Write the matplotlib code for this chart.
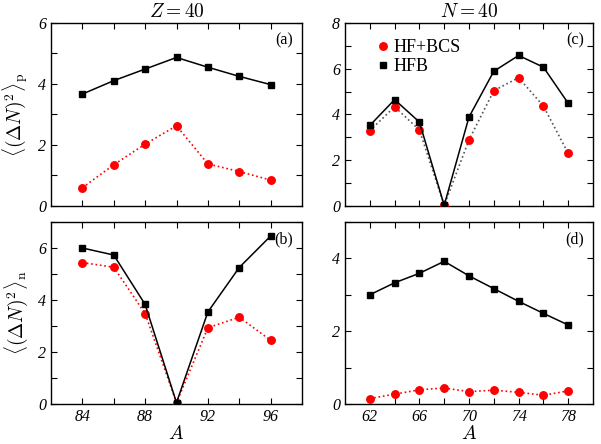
import numpy as np
import matplotlib.pyplot as plt

plt.rcParams["mathtext.fontset"] = "cm"
plt.rcParams["font.family"] = "serif"
plt.rcParams["font.serif"] = ["Liberation Serif", "DejaVu Serif"]
plt.rcParams["font.style"] = "italic"

# ---- data ----
A_zr = [84, 86, 88, 90, 92, 94, 96]
A_n40 = [62, 64, 66, 68, 70, 72, 74, 76, 78]

hfb_a = [3.67, 4.11, 4.49, 4.87, 4.55, 4.25, 3.98]
bcs_a = [0.60, 1.35, 2.03, 2.63, 1.38, 1.13, 0.85]

hfb_b = [6.00, 5.73, 3.83, 0.05, 3.54, 5.25, 6.46]
bcs_b = [5.44, 5.26, 3.48, 0.05, 2.93, 3.34, 2.45]

hfb_c = [3.52, 4.65, 3.67, 0.03, 3.89, 5.89, 6.58, 6.07, 4.49]
bcs_c = [3.29, 4.34, 3.32, 0.03, 2.89, 5.04, 5.61, 4.37, 2.30]

hfb_d = [3.00, 3.33, 3.59, 3.92, 3.52, 3.17, 2.82, 2.49, 2.17]
bcs_d = [0.15, 0.27, 0.39, 0.44, 0.34, 0.38, 0.32, 0.24, 0.36]

fig = plt.figure(figsize=(6.01, 4.44), dpi=100)
L1, R1, L2, R2 = 51 / 601, 302 / 601, 345 / 601, 593 / 601
T1, B1, T2, B2 = 23 / 444, 206 / 444, 222 / 444, 404 / 444
ax_a = fig.add_axes([L1, 1 - B1, R1 - L1, B1 - T1])
ax_b = fig.add_axes([L1, 1 - B2, R1 - L1, B2 - T2])
ax_c = fig.add_axes([L2, 1 - B1, R2 - L2, B1 - T1])
ax_d = fig.add_axes([L2, 1 - B2, R2 - L2, B2 - T2])

panels = [
    (ax_a, A_zr, hfb_a, bcs_a, "(a)", 6, "red"),
    (ax_b, A_zr, hfb_b, bcs_b, "(b)", 7, "red"),
    (ax_c, A_n40, hfb_c, bcs_c, "(c)", 8, "#555555"),
    (ax_d, A_n40, hfb_d, bcs_d, "(d)", 5, "red"),
]

for ax, x, hfb, bcs, tag, ymax, dotcol in panels:
    ax.plot(x, bcs, ls=":", color=dotcol, lw=1.2, zorder=2)
    ax.plot(x, bcs, ls="none", marker="o", color="red", ms=5.4, zorder=3,
            label="HF+BCS")
    ax.plot(x, hfb, "-", color="black", lw=1.1, marker="s", ms=5, zorder=4,
            label="HFB")
    ax.set_ylim(0, ymax)
    ax.set_yticks(np.arange(0, ymax + 0.01, 2))
    ax.set_yticks(np.arange(0, ymax + 0.01, 1), minor=True)
    ax.tick_params(which="both", direction="in", top=True, right=True,
                   length=4, width=0.8, labelsize=11.5)
    ax.text(0.965, 0.95, tag, transform=ax.transAxes, ha="right", va="top",
            fontsize=11.5, style="normal")
    for s in ax.spines.values():
        s.set_linewidth(1.0)

for ax in (ax_a, ax_b):
    ax.set_xlim(82, 98)
    ax.set_xticks([84, 88, 92, 96])
    ax.set_xticks([84, 86, 88, 90, 92, 94, 96], minor=True)
for ax in (ax_c, ax_d):
    ax.set_xlim(60, 80)
    ax.set_xticks([62, 66, 70, 74, 78])
    ax.set_xticks(A_n40, minor=True)
for ax in (ax_a, ax_c):
    ax.set_xticklabels([])
for ax in (ax_b, ax_d):
    ax.set_xlabel("$A$", fontsize=14, labelpad=0)

ax_a.set_title("$Z=40$", fontsize=14, pad=4)
ax_c.set_title("$N=40$", fontsize=14, pad=4)
ax_a.set_ylabel(r"$\langle(\Delta N)^2\rangle_{\rm p}$", fontsize=14, labelpad=6)
ax_b.set_ylabel(r"$\langle(\Delta N)^2\rangle_{\rm n}$", fontsize=14, labelpad=6)

ax_c.legend(loc="upper left", bbox_to_anchor=(0.08, 0.98), frameon=False,
            handlelength=0.6, handletextpad=0.3, borderpad=0.2,
            labelspacing=0.1, prop={"size": 13, "style": "normal"})
ax_c.get_legend().legend_handles[1].set_linestyle("none")

fig.savefig("out.png", dpi=100)
